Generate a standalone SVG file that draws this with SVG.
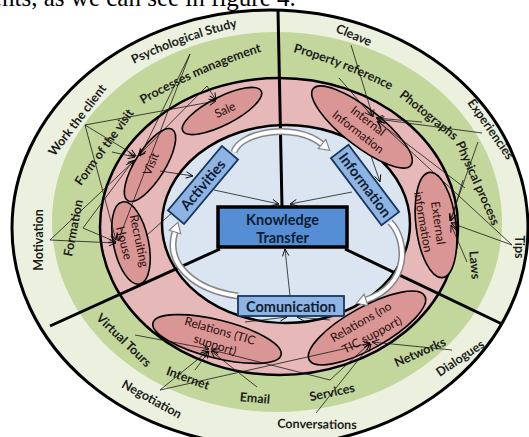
<svg xmlns="http://www.w3.org/2000/svg" width="529" height="437" viewBox="0 0 529 437">
<defs>
<style>
.lbl{font-family:Lato,"Liberation Sans",sans-serif;font-weight:bold;font-size:12.5px;fill:#1c1c1c;text-anchor:middle}
.el{fill:#d99694;stroke:#000;stroke-width:1.6}
.elt{font-family:Lato,"Liberation Sans",sans-serif;font-size:12px;fill:#2a0d0d;text-anchor:middle}
.box{fill:#8eb4e3;stroke:#17375e;stroke-width:1.8}
.bt{font-family:Lato,"Liberation Sans",sans-serif;font-weight:bold;font-size:14.5px;fill:#0f1d33;text-anchor:middle}
.c{stroke:#1a1a1a;stroke-width:0.8;fill:none;marker-end:url(#ah)}
.div{stroke:#000;stroke-width:3;fill:none}
.bo{fill:none;stroke:#858585;stroke-width:7}
.bi{fill:none;stroke:#fff;stroke-width:4;marker-end:url(#bh)}
</style>
<marker id="ah" markerUnits="userSpaceOnUse" markerWidth="8" markerHeight="8" viewBox="0 0 8 8" refX="7.5" refY="4" orient="auto"><path d="M0.5,0.8 L7.5,4 L0.5,7.2" fill="none" stroke="#000" stroke-width="0.9"/></marker>
<marker id="bh" markerUnits="userSpaceOnUse" markerWidth="14" markerHeight="14" viewBox="-1 -7 14 14" refX="0" refY="0" orient="auto"><path d="M0,-6 L10,0 L0,6 Z" fill="#fff" stroke="#858585" stroke-width="1.2"/></marker>
<path id="pPsy" d="M124.6,68.4 Q183.3,39 247.4,24.6"/>
<path id="pProc" d="M133.4,110.1 Q198.8,70.1 272.4,48.3"/>
<path id="pProp" d="M281.5,48.9 Q344.1,64.9 400.9,95.7"/>
</defs>
<rect width="529" height="437" fill="#fff"/>
<text x="-9" y="6" font-family="Liberation Serif, serif" font-size="25" fill="#000">ents, as we can see in figure 4.</text>

<g id="rings">
<ellipse cx="270" cy="228" rx="258" ry="218" fill="#ebf1de"/>
<ellipse cx="277" cy="222" rx="225" ry="190" fill="#c3d69b"/>
<ellipse cx="279" cy="226.5" rx="179" ry="148.5" fill="#e6b9b8" stroke="#000" stroke-width="2.5"/>
<ellipse cx="286" cy="224" rx="124" ry="99" fill="#dbe5f1" stroke="#000" stroke-width="2.5"/>
<ellipse cx="270" cy="228" rx="258" ry="218" fill="none" stroke="#000" stroke-width="3"/>
<path class="div" d="M278,10 L282,207"/>
<path class="div" d="M50,326 L220,249"/>
<path class="div" d="M345,249 L502,324"/>
</g>

<g id="sale"><ellipse class="el" rx="44" ry="14" transform="translate(222,111) rotate(-27)"/><text class="elt" transform="translate(225,110) rotate(-25)" y="4">Sale</text></g>
<g id="visit"><ellipse class="el" rx="42" ry="15" transform="translate(150,165) rotate(-58)"/><text class="elt" transform="translate(151,164) rotate(-68)" y="4">Visit</text></g>
<g id="house-recruiting"><ellipse class="el" rx="42" ry="17.5" transform="translate(131,243) rotate(78)"/><text class="elt" font-size="11" transform="translate(124,243) rotate(76)" y="4">House</text><text class="elt" font-size="11" transform="translate(139,241) rotate(78)" y="4">Recruiting</text></g>
<g id="internal-information"><ellipse class="el" rx="62" ry="19" transform="translate(362,127) rotate(38)"/><text class="elt" transform="translate(368,121) rotate(38)" y="4">Internal</text><text class="elt" transform="translate(358,132) rotate(38)" y="4">Information</text></g>
<g id="external-information"><ellipse class="el" rx="20" ry="53" transform="translate(436,225) rotate(-7)"/><text class="elt" transform="translate(438,223) rotate(82)" y="4">External</text><text class="elt" transform="translate(423,222) rotate(80)" y="4">information</text></g>
<g id="relations-tic"><ellipse class="el" rx="66" ry="19" transform="translate(217,339) rotate(14)"/><text class="elt" transform="translate(220,331) rotate(16)" y="4">Relations (TIC</text><text class="elt" transform="translate(215,345) rotate(18)" y="4">support)</text></g>
<g id="relations-no-tic"><ellipse class="el" rx="66" ry="21" transform="translate(367,328) rotate(-29)"/><text class="elt" transform="translate(361,322) rotate(-30)" y="4">Relations (no</text><text class="elt" transform="translate(372,335) rotate(-28)" y="4">TIC support)</text></g>

<g id="outer-labels">
<text class="lbl"><textPath href="#pPsy" startOffset="50%">Psychological Study</textPath></text>
<text class="lbl" transform="translate(77,120) rotate(-52.5)" y="4.5">Work the client</text>
<text class="lbl" transform="translate(38,240) rotate(-90)" y="4.5">Motivation</text>
<text class="lbl" transform="translate(152,399) rotate(29)" y="4.5">Negotiation</text>
<text class="lbl" transform="translate(317,424) rotate(1)" y="4.5">Conversations</text>
<text class="lbl" transform="translate(460,358) rotate(-34)" y="4.5">Dialogues</text>
<text class="lbl" transform="translate(519,247) rotate(90)" y="4.5">Tips</text>
<text class="lbl" transform="translate(491,129) rotate(55)" y="4.5">Experiencies</text>
<text class="lbl" transform="translate(354,35) rotate(23)" y="4.5">Cleave</text>
</g>
<g id="green-labels">
<text class="lbl"><textPath href="#pProc" startOffset="50%">Processes management</textPath></text>
<text class="lbl"><textPath href="#pProp" startOffset="50%">Property reference</textPath></text>
<text class="lbl" transform="translate(104,147) rotate(-54)" y="4.5">Form of the visit</text>
<text class="lbl" transform="translate(73,228) rotate(-79)" y="4.5">Formation</text>
<text class="lbl" transform="translate(124,340) rotate(44)" y="4.5">Virtual Tours</text>
<text class="lbl" transform="translate(188,378) rotate(20)" y="4.5">Internet</text>
<text class="lbl" transform="translate(255,398) rotate(5)" y="4.5">Email</text>
<text class="lbl" transform="translate(332,392) rotate(-12)" y="4.5">Services</text>
<text class="lbl" transform="translate(420,352) rotate(-24)" y="4.5">Networks</text>
<text class="lbl" transform="translate(475,265) rotate(85)" y="4.5">Laws</text>
<text class="lbl" transform="translate(478,183) rotate(66)" y="4.5">Physical process</text>
<text class="lbl" transform="translate(429,115) rotate(39)" y="4.5">Photographs</text>
</g>

<g id="connectors">
<path class="c" d="M85,125 L216,101"/>
<path class="c" d="M207,86 L216,100"/>
<path class="c" d="M85,125 L136,156"/>
<path class="c" d="M207,86 L138,156"/>
<path class="c" d="M190,54 L140,156"/>
<path class="c" d="M112,152 L135,157"/>
<path class="c" d="M50,240 L135,160"/>
<path class="c" d="M83,228 L133,161"/>
<path class="c" d="M50,240 L116,243"/>
<path class="c" d="M83,228 L116,242"/>
<path class="c" d="M190,54 L118,241"/>
<path class="c" d="M85,125 L116,240"/>
<path class="c" d="M160,171 L193,176"/>
<path class="c" d="M146,236 L183,203"/>
<path class="c" d="M351,45 L373,117"/>
<path class="c" d="M339,78 L372,116"/>
<path class="c" d="M422,122 L376,118"/>
<path class="c" d="M482,133 L377,119"/>
<path class="c" d="M512,245 L378,121"/>
<path class="c" d="M465,188 L377,121"/>
<path class="c" d="M512,245 L451,223"/>
<path class="c" d="M467,262 L451,225"/>
<path class="c" d="M463,180 L451,221"/>
<path class="c" d="M478,142 L450,221"/>
<path class="c" d="M371,156 L380,182"/>
<path class="c" d="M135,335 L209,349"/>
<path class="c" d="M195,370 L209,351"/>
<path class="c" d="M160,390 L208,351"/>
<path class="c" d="M257,387 L211,351"/>
<path class="c" d="M330,380 L212,350"/>
<path class="c" d="M160,390 L370,343"/>
<path class="c" d="M330,380 L370,343"/>
<path class="c" d="M316,413 L371,344"/>
<path class="c" d="M452,350 L372,342"/>
<path class="c" d="M245,322 L287,317"/>
<path class="c" d="M330,320 L297,317"/>
<path class="c" d="M214,190 L279,204"/>
<path class="c" d="M352,192 L290,204"/>
<path class="c" d="M290,296 L285,249"/>
</g>

<g id="cycle-arrows">
<path class="bo" d="M234,152 C240,132 295,122 322,144"/>
<path class="bi" d="M234,152 C240,132 295,122 322,144"/>
<path class="bo" d="M390,222 C408,240 410,285 366,300"/>
<path class="bi" d="M390,222 C408,240 410,285 366,300"/>
<path class="bo" d="M238,296 C195,290 165,265 175,232"/>
<path class="bi" d="M238,296 C195,290 165,265 175,232"/>
</g>

<g id="activities"><rect class="box" x="-42" y="-10.5" width="84" height="21" transform="translate(203,185) rotate(-50)"/><text class="bt" transform="translate(203,185) rotate(-50)" y="5">Activities</text></g>
<g id="information"><rect class="box" x="-42" y="-11" width="84" height="22" transform="translate(365,185) rotate(53)"/><text class="bt" transform="translate(365,185) rotate(53)" y="5">Information</text></g>
<g id="comunication"><rect class="box" x="238" y="296" width="106" height="20"/><text class="bt" font-size="15" x="291" y="311.5">Comunication</text></g>
<g id="knowledge-transfer"><rect x="218" y="207" width="129" height="40" fill="#558ed5" stroke="#000" stroke-width="3.5"/><text class="bt" font-size="18" fill="#0d0d0d" x="282.5" y="225">Knowledge</text><text class="bt" font-size="18" fill="#0d0d0d" x="282.5" y="242.5">Transfer</text></g>
</svg>
